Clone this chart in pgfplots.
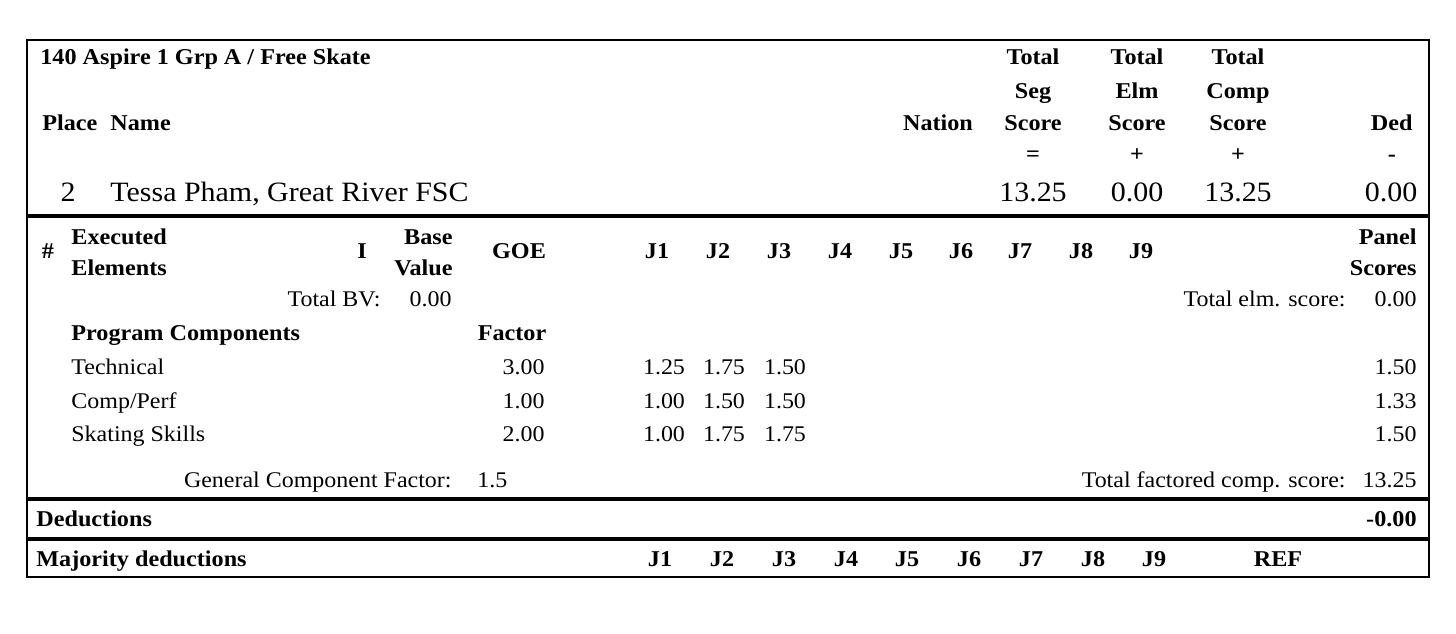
\documentclass[border=0pt]{standalone}
\usepackage{pgfplots}
\pgfplotsset{compat=1.18}
\usepackage{pgfplotstable}
\usepackage{fontspec}
\setmainfont{Liberation Serif}[FakeStretch=1.07]

\newcommand\rf{\fontsize{11.2}{13}\selectfont}
\newcommand\bfn{\fontsize{11.3}{13}\selectfont\bfseries}
\newcommand\bigf{\fontsize{14.0}{16}\selectfont}

% judges' component marks (centred on x, baseline at y; pixel units, y downward)
\pgfplotstableread{
x y s
664 374 1.25
724 374 1.75
785 374 1.50
664 408 1.00
724 408 1.50
785 408 1.50
664 441 1.00
724 441 1.75
785 441 1.75
}\judges

% right-aligned numbers
\pgfplotstableread{
x y s
452 306 0.00
1417 306 0.00
545 374 3.00
545 408 1.00
545 441 2.00
1417 374 1.50
1417 408 1.33
1417 441 1.50
1417 487 13.25
}\rightnums

% headline scores (centred)
\pgfplotstableread{
x y s
1033 201 13.25
1137 201 0.00
1238 201 13.25
1391 201 0.00
}\headscores

% judge column headings
\pgfplotstableread{
x y s
657 258 J1
718 258 J2
779 258 J3
840 258 J4
901 258 J5
961 258 J6
1020 258 J7
1081 258 J8
1141 258 J9
660 566 J1
722 566 J2
784 566 J3
846 566 J4
907 566 J5
969 566 J6
1031 566 J7
1093 566 J8
1154 566 J9
1278 566 REF
}\jheads

\begin{document}
\begin{tikzpicture}
\begin{axis}[
  x=0.5pt, y=0.5pt,
  xmin=0, xmax=1456, ymin=0, ymax=633,
  y dir=reverse,
  hide axis, clip=false,
]
\path (axis cs:0,0) rectangle (axis cs:1456,633);

% frame and rules
\draw[line width=1pt] (axis cs:27,40) rectangle (axis cs:1429,577);
\draw[line width=2pt] (axis cs:27,216) -- (axis cs:1429,216);
\draw[line width=2pt] (axis cs:27,499) -- (axis cs:1429,499);
\draw[line width=2pt] (axis cs:27,539) -- (axis cs:1429,539);

% data
\addplot[draw=none, mark=none, nodes near coords, point meta=explicit symbolic,
  nodes near coords style={anchor=base, inner sep=0pt, font=\rf}]
  table[x=x, y=y, meta=s] {\judges};
\addplot[draw=none, mark=none, nodes near coords, point meta=explicit symbolic,
  nodes near coords style={anchor=base east, inner sep=0pt, font=\rf}]
  table[x=x, y=y, meta=s] {\rightnums};
\addplot[draw=none, mark=none, nodes near coords, point meta=explicit symbolic,
  nodes near coords style={anchor=base, inner sep=0pt, font=\bigf}]
  table[x=x, y=y, meta=s] {\headscores};
\addplot[draw=none, mark=none, nodes near coords, point meta=explicit symbolic,
  nodes near coords style={anchor=base, inner sep=0pt, font=\bfn}]
  table[x=x, y=y, meta=s] {\jheads};

% header block
\tikzset{lw/.style={anchor=base west, inner sep=0pt},
         lc/.style={anchor=base, inner sep=0pt},
         le/.style={anchor=base east, inner sep=0pt}}
\node[lw, font=\bfn] at (axis cs:40,64) {140 Aspire 1 Grp A / Free Skate};
\node[lc, font=\bfn] at (axis cs:1033,64) {Total};
\node[lc, font=\bfn] at (axis cs:1137,64) {Total};
\node[lc, font=\bfn] at (axis cs:1238,64) {Total};
\node[lc, font=\bfn] at (axis cs:1033,98) {Seg};
\node[lc, font=\bfn] at (axis cs:1137,98) {Elm};
\node[lc, font=\bfn] at (axis cs:1238,98) {Comp};
\node[lw, font=\bfn] at (axis cs:42,130) {Place};
\node[lw, font=\bfn] at (axis cs:110,130) {Name};
\node[lc, font=\bfn] at (axis cs:938,130) {Nation};
\node[lc, font=\bfn] at (axis cs:1033,130) {Score};
\node[lc, font=\bfn] at (axis cs:1137,130) {Score};
\node[lc, font=\bfn] at (axis cs:1238,130) {Score};
\node[le, font=\bfn] at (axis cs:1413,130) {Ded};
\node[lc, font=\bfn] at (axis cs:1033,161) {=};
\node[lc, font=\bfn] at (axis cs:1137,161) {+};
\node[lc, font=\bfn] at (axis cs:1238,161) {+};
\node[lc, font=\bfn] at (axis cs:1392,161) {-};
\node[lc, font=\bigf] at (axis cs:68,201) {2};
\node[lw, font=\bigf] at (axis cs:110,201) {Tessa Pham, Great River FSC};

% element header
\node[lc, font=\bfn] at (axis cs:48,258) {\#};
\node[lw, font=\bfn] at (axis cs:71,244) {Executed};
\node[lw, font=\bfn] at (axis cs:71,275) {Elements};
\node[lc, font=\bfn] at (axis cs:362,258) {I};
\node[le, font=\bfn] at (axis cs:453,244) {Base};
\node[le, font=\bfn] at (axis cs:453,275) {Value};
\node[lc, font=\bfn] at (axis cs:519,258) {GOE};
\node[le, font=\bfn] at (axis cs:1417,244) {Panel};
\node[le, font=\bfn] at (axis cs:1417,275) {Scores};
\node[le, font=\rf] at (axis cs:381,306) {Total BV:};
\node[le, font=\rf] at (axis cs:1346,306) {Total elm. score:};

% components
\node[lw, font=\bfn] at (axis cs:71,340) {Program Components};
\node[lc, font=\bfn] at (axis cs:512,340) {Factor};
\node[lw, font=\rf] at (axis cs:71,374) {Technical};
\node[lw, font=\rf] at (axis cs:71,408) {Comp/Perf};
\node[lw, font=\rf] at (axis cs:71,441) {Skating Skills};
\node[le, font=\rf] at (axis cs:452,487) {General Component Factor:};
\node[lw, font=\rf] at (axis cs:477,487) {1.5};
\node[le, font=\rf] at (axis cs:1346,487) {Total factored comp. score:};

% deductions
\node[lw, font=\bfn] at (axis cs:36,526) {Deductions};
\node[le, font=\bfn] at (axis cs:1417,526) {-0.00};
\node[lw, font=\bfn] at (axis cs:36,566) {Majority deductions};
\end{axis}
\end{tikzpicture}
\end{document}
